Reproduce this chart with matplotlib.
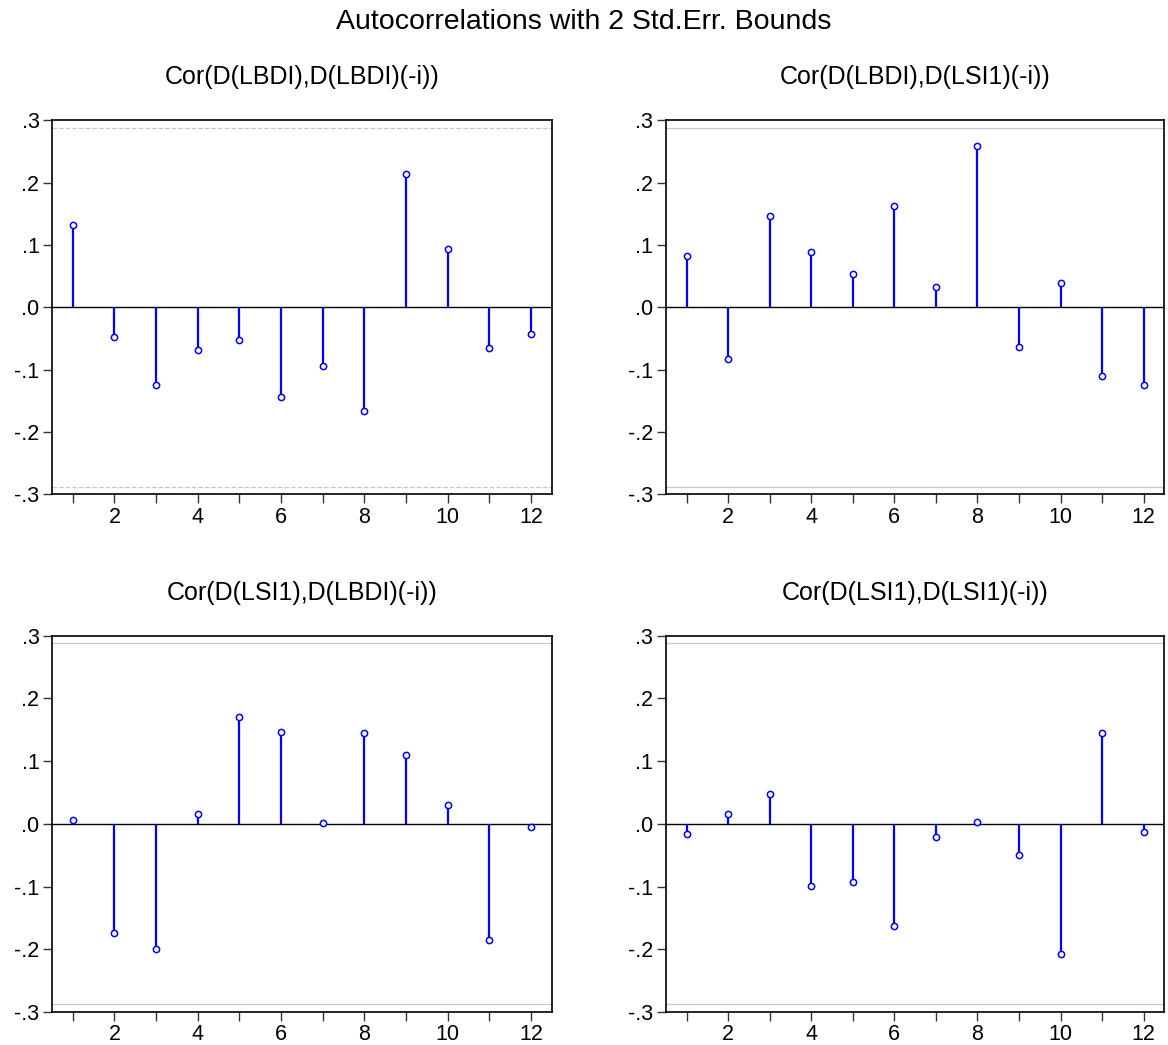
import numpy as np
import matplotlib
matplotlib.use("Agg")
import matplotlib.pyplot as plt

plt.rcParams["font.family"] = ["Liberation Sans", "DejaVu Sans"]

# --- Data ---
lags = np.arange(1, 13)
bound = 0.288  # 2 std.err.

titles = ["Cor(D(LBDI),D(LBDI)(-i))", "Cor(D(LBDI),D(LSI1)(-i))",
          "Cor(D(LSI1),D(LBDI)(-i))", "Cor(D(LSI1),D(LSI1)(-i))"]

cor_bdi_bdi = [0.132, -0.047, -0.124, -0.069, -0.053, -0.144,
               -0.095, -0.167, 0.213, 0.093, -0.066, -0.043]
cor_bdi_lsi = [0.082, -0.083, 0.146, 0.088, 0.053, 0.162,
               0.032, 0.258, -0.064, 0.039, -0.111, -0.125]
cor_lsi_bdi = [0.006, -0.174, -0.199, 0.016, 0.171, 0.147,
               0.002, 0.145, 0.110, 0.030, -0.185, -0.005]
cor_lsi_lsi = [-0.016, 0.016, 0.048, -0.099, -0.093, -0.163,
               -0.021, 0.003, -0.049, -0.207, 0.145, -0.013]

series = [cor_bdi_bdi, cor_bdi_lsi, cor_lsi_bdi, cor_lsi_lsi]

yticks = [-0.3, -0.2, -0.1, 0.0, 0.1, 0.2, 0.3]
ytick_labels = ["-.3", "-.2", "-.1", ".0", ".1", ".2", ".3"]

# axes positions [left, bottom, width, height] in figure fractions
positions = [[0.0445, 0.527, 0.428, 0.358],
             [0.570, 0.527, 0.427, 0.358],
             [0.0445, 0.0316, 0.428, 0.360],
             [0.570, 0.0316, 0.427, 0.360]]

fig = plt.figure(figsize=(11.68, 10.45), dpi=100)
fig.text(0.5, 1 - 22 / 1045, "Autocorrelations with 2 Std.Err. Bounds",
         fontsize=20.5, ha="center", va="center")

for i, (vals, title, pos) in enumerate(zip(series, titles, positions)):
    ax = fig.add_axes(pos)
    vals = np.array(vals)

    # bounds
    ls = "--" if i == 0 else "-"
    ax.axhline(bound, color="#c8c8c8", lw=0.9, ls=ls, zorder=1)
    ax.axhline(-bound, color="#c8c8c8", lw=0.9, ls=ls, zorder=1)
    ax.axhline(0, color="black", lw=1.0, zorder=2)

    ax.vlines(lags, 0, vals, color="#0000ff", lw=1.6, zorder=3)
    ax.plot(lags, vals, "o", ms=4.5, mfc="white", mec="#0000ff",
            mew=1.1, zorder=4)

    ax.set_xlim(0.5, 12.5)
    ax.set_ylim(-0.3, 0.3)
    ax.set_yticks(yticks)
    ax.set_yticklabels(ytick_labels)
    ax.set_xticks([2, 4, 6, 8, 10, 12])
    ax.set_xticks([1, 3, 5, 7, 9, 11], minor=True)
    ax.tick_params(axis="both", which="both", direction="out",
                   length=6.5, width=1, labelsize=15.5, colors="#333333",
                   labelcolor="black", pad=2.5)
    for sp in ax.spines.values():
        sp.set_linewidth(1.2)
    ax.set_title(title, fontsize=18, pad=26)

fig.savefig("out.png", dpi=100)
